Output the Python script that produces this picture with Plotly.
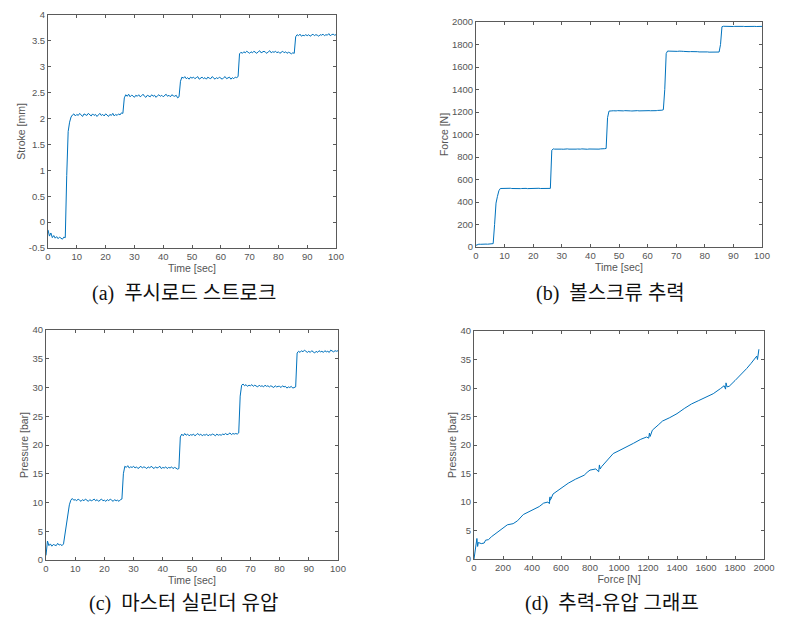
import plotly.graph_objects as go

# ---------------- data ----------------
time_sec = [
    0, 0.5, 1, 1.5, 2, 2.5, 3, 3.5, 4, 4.5,
    5, 5.5, 6, 6.5, 7, 7.5, 8, 8.5, 9, 9.5,
    10, 10.5, 11, 11.5, 12, 12.5, 13, 13.5, 14, 14.5,
    15, 15.5, 16, 16.5, 17, 17.5, 18, 18.5, 19, 19.5,
    20, 20.5, 21, 21.5, 22, 22.5, 23, 23.5, 24, 24.5,
    25, 25.5, 26, 26.5, 27, 27.5, 28, 28.5, 29, 29.5,
    30, 30.5, 31, 31.5, 32, 32.5, 33, 33.5, 34, 34.5,
    35, 35.5, 36, 36.5, 37, 37.5, 38, 38.5, 39, 39.5,
    40, 40.5, 41, 41.5, 42, 42.5, 43, 43.5, 44, 44.5,
    45, 45.5, 46, 46.5, 47, 47.5, 48, 48.5, 49, 49.5,
    50, 50.5, 51, 51.5, 52, 52.5, 53, 53.5, 54, 54.5,
    55, 55.5, 56, 56.5, 57, 57.5, 58, 58.5, 59, 59.5,
    60, 60.5, 61, 61.5, 62, 62.5, 63, 63.5, 64, 64.5,
    65, 65.5, 66, 66.5, 67, 67.5, 68, 68.5, 69, 69.5,
    70, 70.5, 71, 71.5, 72, 72.5, 73, 73.5, 74, 74.5,
    75, 75.5, 76, 76.5, 77, 77.5, 78, 78.5, 79, 79.5,
    80, 80.5, 81, 81.5, 82, 82.5, 83, 83.5, 84, 84.5,
    85, 85.5, 86, 86.5, 87, 87.5, 88, 88.5, 89, 89.5,
    90, 90.5, 91, 91.5, 92, 92.5, 93, 93.5, 94, 94.5,
    95, 95.5, 96, 96.5, 97, 97.5, 98, 98.5, 99, 99.5,
    100,
]

stroke_mm = [
    -0.15, -0.27, -0.21, -0.30, -0.26, -0.31, -0.28, -0.32, -0.29, -0.31,
    -0.33, -0.29, -0.30, 0.90, 1.75, 1.93, 2.03, 2.07, 2.09, 2.05,
    2.08, 2.06, 2.10, 2.07, 2.04, 2.09, 2.08, 2.06, 2.10, 2.07,
    2.05, 2.09, 2.06, 2.08, 2.04, 2.07, 2.10, 2.06, 2.08, 2.05,
    2.09, 2.07, 2.04, 2.08, 2.06, 2.10, 2.05, 2.08, 2.06, 2.09,
    2.07, 2.11, 2.10, 2.40, 2.46, 2.43, 2.47, 2.42, 2.45, 2.44,
    2.41, 2.45, 2.43, 2.46, 2.42, 2.44, 2.47, 2.43, 2.41, 2.45,
    2.44, 2.42, 2.46, 2.43, 2.45, 2.41, 2.44, 2.46, 2.43, 2.45,
    2.42, 2.44, 2.47, 2.43, 2.45, 2.42, 2.46, 2.44, 2.43, 2.45,
    2.40, 2.42, 2.72, 2.80, 2.78, 2.81, 2.77, 2.79, 2.76, 2.80,
    2.78, 2.80, 2.77, 2.79, 2.81, 2.76, 2.78, 2.80, 2.77, 2.79,
    2.76, 2.80, 2.78, 2.77, 2.81, 2.78, 2.76, 2.79, 2.77, 2.80,
    2.78, 2.76, 2.79, 2.81, 2.77, 2.78, 2.80, 2.76, 2.79, 2.77,
    2.80, 2.79, 2.81, 3.25, 3.28, 3.26, 3.29, 3.27, 3.30, 3.28,
    3.26, 3.29, 3.27, 3.30, 3.28, 3.26, 3.29, 3.31, 3.27, 3.29,
    3.30, 3.28, 3.26, 3.29, 3.31, 3.27, 3.29, 3.28, 3.30, 3.27,
    3.29, 3.26, 3.28, 3.30, 3.27, 3.29, 3.26, 3.28, 3.27, 3.25,
    3.27, 3.26, 3.58, 3.62, 3.60, 3.63, 3.59, 3.61, 3.60, 3.62,
    3.60, 3.62, 3.59, 3.61, 3.63, 3.60, 3.62, 3.61, 3.59, 3.62,
    3.61, 3.63, 3.60, 3.62, 3.61, 3.64, 3.60, 3.62, 3.63, 3.61,
    3.62,
]

force_n = [
    15, 22, 25, 24, 26, 25, 27, 26, 25, 27,
    26, 28, 30, 200, 390, 450, 500, 520, 521, 519,
    520, 521, 519, 520, 522, 520, 519, 521, 520, 520,
    521, 519, 520, 522, 520, 521, 519, 520, 521, 520,
    520, 519, 521, 520, 522, 520, 521, 519, 520, 521,
    520, 522, 521, 860, 872, 870, 871, 869, 870, 871,
    870, 869, 871, 870, 872, 870, 869, 871, 870, 871,
    870, 871, 869, 870, 872, 870, 871, 870, 869, 871,
    870, 872, 871, 870, 869, 871, 870, 872, 871, 873,
    874, 876, 1150, 1208, 1212, 1210, 1211, 1209, 1210, 1212,
    1210, 1211, 1209, 1210, 1212, 1210, 1209, 1211, 1210, 1209,
    1211, 1210, 1209, 1212, 1210, 1211, 1210, 1209, 1211, 1210,
    1210, 1212, 1211, 1210, 1213, 1211, 1212, 1214, 1213, 1215,
    1216, 1220, 1400, 1720, 1742, 1741, 1740, 1742, 1739, 1741,
    1740, 1739, 1741, 1738, 1740, 1739, 1737, 1739, 1738, 1736,
    1737, 1738, 1736, 1735, 1737, 1736, 1734, 1735, 1736, 1734,
    1733, 1735, 1734, 1732, 1733, 1734, 1732, 1731, 1733, 1732,
    1733, 1800, 1958, 1962, 1961, 1960, 1962, 1961, 1960, 1961,
    1960, 1961, 1962, 1960, 1961, 1960, 1962, 1961, 1960, 1961,
    1962, 1960, 1961, 1960, 1962, 1961, 1960, 1961, 1962, 1960,
    1961,
]

pressure_bar = [
    0.8, 3.3, 2.5, 2.8, 2.4, 2.7, 2.6, 2.5, 2.9, 2.6,
    2.7, 2.5, 2.8, 4.5, 7.0, 8.6, 9.6, 10.4, 10.7, 10.4,
    10.5, 10.3, 10.6, 10.4, 10.2, 10.5, 10.3, 10.6, 10.4, 10.2,
    10.5, 10.3, 10.4, 10.6, 10.3, 10.5, 10.2, 10.4, 10.6, 10.3,
    10.4, 10.2, 10.5, 10.3, 10.6, 10.4, 10.2, 10.5, 10.3, 10.4,
    10.2, 10.5, 10.6, 15.0, 16.3, 16.1, 16.4, 16.0, 16.2, 16.1,
    16.3, 16.0, 16.2, 15.9, 16.1, 16.3, 16.0, 16.2, 16.1, 15.9,
    16.2, 16.0, 16.3, 16.1, 15.9, 16.2, 16.0, 16.1, 16.3, 15.9,
    16.1, 16.0, 16.2, 15.9, 16.1, 16.0, 16.2, 15.9, 16.1, 16.0,
    15.8, 15.9, 21.4, 21.9, 21.6, 22.0, 21.7, 21.9, 21.6, 21.8,
    21.7, 21.9, 21.6, 21.8, 22.0, 21.7, 21.9, 21.6, 21.8, 21.7,
    21.9, 21.6, 21.8, 21.7, 21.9, 21.8, 21.6, 21.9, 21.7, 21.8,
    21.7, 21.9, 21.8, 22.0, 21.8, 21.9, 22.1, 21.8, 22.0, 21.9,
    22.0, 21.9, 22.1, 28.5, 30.4, 30.6, 30.3, 30.5, 30.2, 30.4,
    30.3, 30.5, 30.2, 30.4, 30.3, 30.1, 30.4, 30.2, 30.3, 30.1,
    30.4, 30.2, 30.3, 30.1, 30.3, 30.2, 30.0, 30.3, 30.1, 30.2,
    30.2, 30.0, 30.3, 30.1, 30.2, 29.9, 30.1, 30.0, 30.2, 29.9,
    30.0, 30.1, 36.0, 36.3, 36.1, 36.4, 36.2, 36.5, 36.3, 36.1,
    36.3, 36.1, 36.4, 36.2, 36.0, 36.3, 36.1, 36.4, 36.2, 36.3,
    36.1, 36.4, 36.2, 36.3, 36.1, 36.5, 36.3, 36.2, 36.4, 36.3,
    36.4,
]

# (d) pressure versus force curve
curve_force_n = [
    0, 20, 25, 30, 50, 70, 80, 100, 120, 150,
    200, 230, 270, 300, 340, 400, 450, 480, 510, 520,
    525, 520, 530, 545, 600, 650, 700, 760, 780, 800,
    840, 860, 865, 870, 880, 920, 960, 1000, 1050, 1100,
    1150, 1190, 1205, 1210, 1215, 1230, 1270, 1300, 1350, 1400,
    1450, 1500, 1550, 1600, 1650, 1700, 1725, 1735, 1738, 1745,
    1760, 1800, 1850, 1880, 1910, 1940, 1950, 1955, 1960, 1965,
]
curve_pressure_bar = [
    0.0, 3.6, 2.2, 2.9, 2.7, 2.8, 3.3, 3.4, 3.9, 4.5,
    5.5, 6.0, 6.2, 6.7, 7.8, 8.5, 9.2, 9.8, 10.0, 9.7,
    10.9, 10.2, 10.5, 11.4, 12.4, 13.3, 14.0, 14.7, 15.2, 15.6,
    15.8, 15.3, 16.5, 15.8, 16.2, 17.4, 18.5, 19.0, 19.6, 20.3,
    21.0, 21.4, 21.2, 22.1, 21.5, 22.6, 23.5, 24.2, 24.8, 25.5,
    26.4, 27.2, 27.8, 28.4, 29.0, 29.9, 30.4, 29.8, 30.9, 30.2,
    30.3, 31.3, 32.5, 33.4, 34.3, 35.2, 35.6, 35.0, 36.2, 36.8,
]

# tick labels
stroke_ticks = [-0.5, 0, 0.5, 1, 1.5, 2, 2.5, 3, 3.5, 4]
stroke_ticktext = ["-0.5", "0", "0.5", "1", "1.5", "2", "2.5", "3", "3.5", "4"]
time_ticks = [0, 10, 20, 30, 40, 50, 60, 70, 80, 90, 100]
force_ticks = [0, 200, 400, 600, 800, 1000, 1200, 1400, 1600, 1800, 2000]
pressure_ticks = [0, 5, 10, 15, 20, 25, 30, 35, 40]

captions = ["(a)  푸시로드 스트로크", "(b)  볼스크류 추력", "(c)  마스터 실린더 유압", "(d)  추력-유압 그래프"]

# ---------------- figure ----------------
OFF = 8  # default page body margin
W, H = 790 - OFF, 624 - OFF
LINE = "#0072BD"
AX = "#5a5a5a"
TXT = "#555555"
SANS = "Liberation Sans, Arial"


def xd(a, b):
    return [(a - OFF) / W, (b - OFF) / W]


def yd(top, bottom):
    return [1 - (bottom - OFF) / H, 1 - (top - OFF) / H]


fig = go.Figure()
fig.add_trace(go.Scatter(x=time_sec, y=stroke_mm, mode="lines",
                         line=dict(color=LINE, width=1), xaxis="x", yaxis="y"))
fig.add_trace(go.Scatter(x=time_sec, y=force_n, mode="lines",
                         line=dict(color=LINE, width=1), xaxis="x2", yaxis="y2"))
fig.add_trace(go.Scatter(x=time_sec, y=pressure_bar, mode="lines",
                         line=dict(color=LINE, width=1), xaxis="x3", yaxis="y3"))
fig.add_trace(go.Scatter(x=curve_force_n, y=curve_pressure_bar, mode="lines",
                         line=dict(color=LINE, width=1), xaxis="x4", yaxis="y4"))

common = dict(showline=True, linecolor=AX, linewidth=1, mirror="ticks",
              ticks="inside", ticklen=3, tickcolor=AX, showgrid=False,
              zeroline=False, automargin=False,
              tickfont=dict(family=SANS, size=9.5, color=TXT),
              title_font=dict(family=SANS, size=10.5, color=TXT))

layout = dict(
    width=W, height=H, margin=dict(l=0, r=0, t=0, b=0, autoexpand=False),
    paper_bgcolor="white", plot_bgcolor="white", showlegend=False,
    xaxis=dict(domain=xd(48, 336), anchor="y", range=[0, 100], tickvals=time_ticks,
               title=dict(text="Time [sec]", standoff=3), **common),
    yaxis=dict(domain=yd(15, 248), anchor="x", range=[-0.5, 4], tickvals=stroke_ticks,
               ticktext=stroke_ticktext, title=dict(text="Stroke [mm]", standoff=1), **common),
    xaxis2=dict(domain=xd(476, 762), anchor="y2", range=[0, 100], tickvals=time_ticks,
                title=dict(text="Time [sec]", standoff=3), **common),
    yaxis2=dict(domain=yd(22, 247), anchor="x2", range=[0, 2000], tickvals=force_ticks,
                title=dict(text="Force [N]", standoff=1), **common),
    xaxis3=dict(domain=xd(46, 338), anchor="y3", range=[0, 100], tickvals=time_ticks,
                title=dict(text="Time [sec]", standoff=3), **common),
    yaxis3=dict(domain=yd(330, 560), anchor="x3", range=[0, 40], tickvals=pressure_ticks,
                title=dict(text="Pressure [bar]", standoff=1), **common),
    xaxis4=dict(domain=xd(474, 764), anchor="y4", range=[0, 2000], tickvals=force_ticks,
                title=dict(text="Force [N]", standoff=3), **common),
    yaxis4=dict(domain=yd(331, 559), anchor="x4", range=[0, 40], tickvals=pressure_ticks,
                title=dict(text="Pressure [bar]", standoff=1), **common),
)
fig.update_layout(**layout)

cap_pos = [(184, 293), (610, 293), (183, 603), (612, 603)]
for text, (cx, cy) in zip(captions, cap_pos):
    fig.add_annotation(text=text, xref="paper", yref="paper",
                       x=(cx - OFF) / W, y=1 - (cy - OFF) / H,
                       xanchor="center", yanchor="middle", showarrow=False,
                       font=dict(family="Liberation Serif, Noto Sans CJK KR", size=20, color="#111111"))

fig.write_html("out.html")
